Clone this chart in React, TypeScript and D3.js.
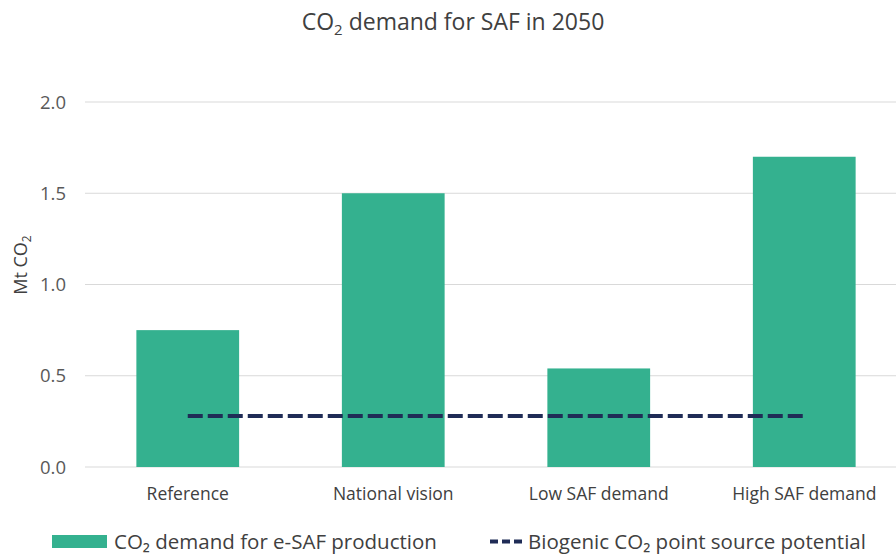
import React from "react";
import * as d3 from "d3";

const categories = ["Reference", "National vision", "Low SAF demand", "High SAF demand"];
const demandValues = [0.75, 1.5, 0.54, 1.7];
const biogenicValues = [0.28, 0.28, 0.28, 0.28];
const yTicks = [0, 0.5, 1.0, 1.5, 2.0];

const W = 896;
const H = 554;
const FONT = "'Open Sans', sans-serif";

export default function App() {
  const x = d3.scaleBand<string>().domain(categories).range([85, 907]).paddingInner(0.5).paddingOuter(0.25);
  const y = d3.scaleLinear().domain([0, 2]).range([467, 102]);
  const line = d3
    .line<number>()
    .x((_, i) => (x(categories[i]) as number) + x.bandwidth() / 2)
    .y((d) => y(d));

  return (
    <svg width={W} height={H} style={{ position: "absolute", left: 0, top: 0, background: "#fff" }}>
      <text x={453} y={30} textAnchor="middle" fontFamily={FONT} fontSize={23} fill="#404040">
        CO<tspan fontSize={15} dy={5}>2</tspan>
        <tspan dy={-5}> demand for SAF in 2050</tspan>
      </text>
      {yTicks.map((t) => (
        <g key={t}>
          <line x1={85} x2={W} y1={y(t)} y2={y(t)} stroke="#d9d9d9" strokeWidth={1.2} />
          <text x={66} y={y(t) + 6.5} textAnchor="end" fontFamily={FONT} fontSize={18.5} fill="#595959">
            {t.toFixed(1)}
          </text>
        </g>
      ))}
      <text transform={`translate(27,265) rotate(-90)`} textAnchor="middle" fontFamily={FONT} fontSize={18} fill="#404040">
        Mt CO<tspan fontSize={12} dy={4}>2</tspan>
      </text>
      {categories.map((c, i) => (
        <rect key={c} x={x(c)} y={y(demandValues[i])} width={x.bandwidth()} height={y(0) - y(demandValues[i])} fill="#34B18F" />
      ))}
      <path d={line(biogenicValues) || ""} fill="none" stroke="#1F2C56" strokeWidth={4} strokeDasharray="15,5" />
      {categories.map((c) => (
        <text key={c} x={(x(c) as number) + x.bandwidth() / 2} y={500} textAnchor="middle" fontFamily={FONT} fontSize={17.5} fill="#404040">
          {c}
        </text>
      ))}
      <rect x={52} y={535} width={55} height={13} fill="#34B18F" />
      <text x={114} y={548.5} fontFamily={FONT} fontSize={20.5} fill="#404040">CO₂ demand for e-SAF production</text>
      <line x1={490} x2={522} y1={541.5} y2={541.5} stroke="#1F2C56" strokeWidth={4} strokeDasharray="8,4" />
      <text x={528} y={548.5} fontFamily={FONT} fontSize={20.5} fill="#404040">Biogenic CO₂ point source potential</text>
    </svg>
  );
}
